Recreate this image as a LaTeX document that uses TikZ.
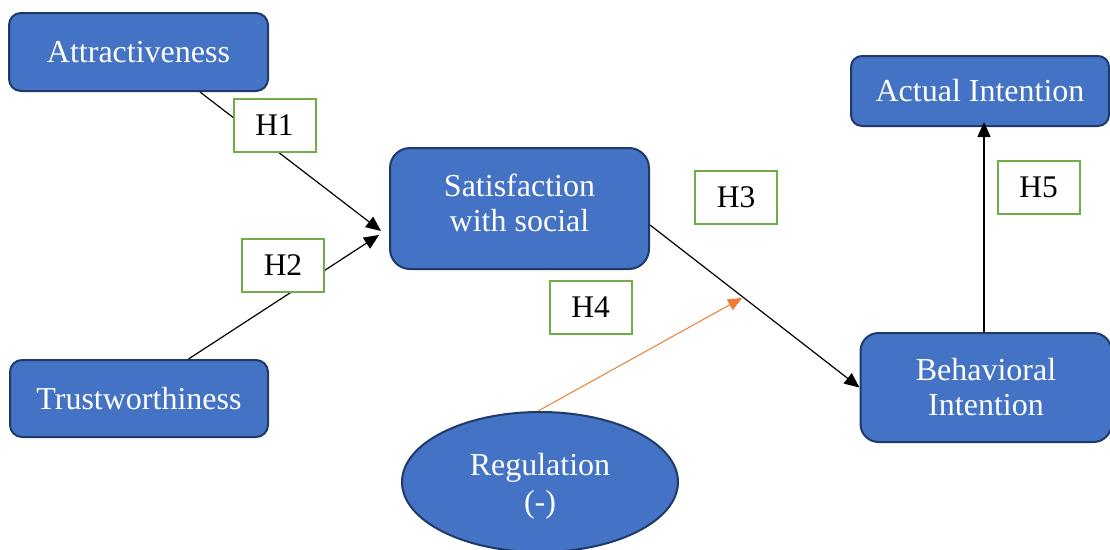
\documentclass[tikz,border=0pt]{standalone}
\usepackage{fontspec}
\setmainfont{Liberation Serif}
\usetikzlibrary{shapes.geometric,arrows.meta,calc}
\definecolor{boxblue}{HTML}{4472C4}
\definecolor{boxedge}{HTML}{1F3A68}
\definecolor{hgreen}{HTML}{70AD47}
\definecolor{horange}{HTML}{ED7D31}
\tikzset{
  concept/.style={draw=boxedge, line width=2pt, fill=boxblue, text=white, align=center,
    inner sep=0pt, font=\fontsize{32}{35}\selectfont},
  hyp/.style={draw=hgreen, line width=2pt, fill=white, text=black, inner sep=0pt,
    minimum width=82pt, minimum height=53pt, font=\fontsize{31.5}{35}\selectfont},
  link/.style={line width=1.2pt, black, -{Triangle[length=15pt,width=13pt]}},
  modlink/.style={line width=1pt, horange, -{Triangle[length=14pt,width=12pt]}}
}
\begin{document}
\begin{tikzpicture}[x=1pt,y=-1pt]
\useasboundingbox (0,0) rectangle (1110,549);
\clip (0,0) rectangle (1110,549);
% concept boxes
\node[concept, rounded corners=12pt, minimum width=259pt, minimum height=78pt] (attr) at (138.5,52) {Attractiveness};
\node[concept, rounded corners=12pt, minimum width=258pt, minimum height=77pt] (trust) at (139,398.5) {Trustworthiness};
\node[concept, rounded corners=20pt, minimum width=259pt, minimum height=121pt] (sat) at (519.5,208.5) {};
\node[white, align=center, font=\fontsize{32}{35}\selectfont] (sattext) at (519.5,203) {Satisfaction\\with social};
\node[concept, rounded corners=11pt, minimum width=258pt, minimum height=70pt] (act) at (980,91) {Actual Intention};
\node[concept, rounded corners=18pt, minimum width=251pt, minimum height=109pt] (beh) at (986,387.5) {Behavioral\\Intention};
\node[draw=boxedge, line width=2pt, fill=boxblue, ellipse, minimum width=276pt, minimum height=140pt, inner sep=0pt] (reg) at (540,482) {};
\node[white, align=center, font=\fontsize{32}{37}\selectfont] (regtext) at (540,486) {Regulation\\(-)};
% arrow end points
\coordinate (t1) at (381,231);
\coordinate (t2) at (379,235);
\coordinate (t4) at (742,298);
% connectors
\draw[link] ([xshift=61.5pt]attr.south) -- (t1);
\draw[link] ([xshift=49.5pt]trust.north) -- (t2);
\draw[link] ([yshift=-16.5pt]sat.east) -- (beh.west);
\draw[link] ([xshift=-2pt]beh.north) -- ([xshift=4pt,yshift=5pt]act.south);
\draw[modlink] ([xshift=-2pt]reg.north) -- (t4);
% hypothesis labels
\node[hyp] (h1) at (274.5,125) {H1};
\node[hyp] (h2) at (283,265) {H2};
\node[hyp] (h3) at (736,197.5) {H3};
\node[hyp] (h4) at (590.5,307.5) {H4};
\node[hyp] (h5) at (1038.5,187.5) {H5};
\end{tikzpicture}
\end{document}
